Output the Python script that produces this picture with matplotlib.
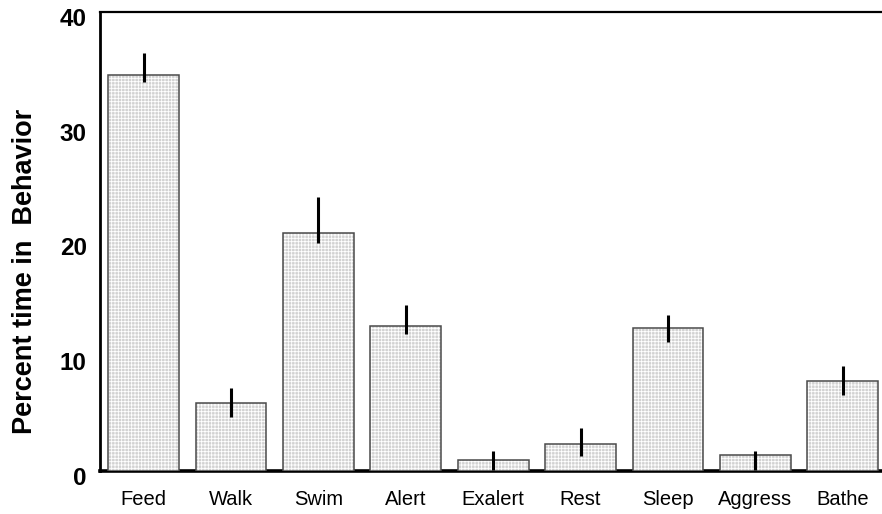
import matplotlib
matplotlib.use('Agg')
import matplotlib.pyplot as plt
import matplotlib.transforms as mtransforms


plt.rcParams['font.family']     = ['Liberation Sans', 'DejaVu Sans']
plt.rcParams['hatch.linewidth'] = 0.6
plt.rcParams['hatch.color']     = 'white'

behaviors   = ['Feed', 'Walk', 'Swim', 'Alert', 'Exalert', 'Rest', 'Sleep', 'Aggress', 'Bathe']
percent     = [34.5, 5.95, 20.7, 12.6, 0.93, 2.38, 12.5, 1.37, 7.84]
err_low     = [33.9, 4.73, 19.9, 11.9, 0.06, 1.28, 11.2, 0.06, 6.6]
err_high    = [36.4, 7.2, 23.9, 14.5, 1.74, 3.77, 13.6, 1.74, 9.15]
yticks      = [0, 10, 20, 30, 40]


def main():
    fig = plt.figure(figsize=(8.82, 5.14), dpi=100)
    ax = fig.add_axes([100/882, 1 - 471/514, 782/882, 459/514])

    X = range(len(behaviors))
    # texture first, then the outline on top
    ax.bar(X, percent, width=0.81, color='#d2d2d2', hatch='+++++',
           linewidth=0, zorder=3)
    ax.bar(X, percent, width=0.81, facecolor='none', edgecolor='#4a4a4a',
           linewidth=1.1, zorder=3.5)

    lower = [p - lo for p, lo in zip(percent, err_low)]
    upper = [hi - p for p, hi in zip(percent, err_high)]
    ax.errorbar(X, percent, yerr=[lower, upper], fmt='none', ecolor='black',
                elinewidth=2.2, capsize=0, zorder=4)

    ax.set_xlim(-0.5, 8.45)
    ax.set_ylim(0, 40)
    ax.set_xticks(list(X))
    ax.set_xticklabels(behaviors, fontsize=14.5)
    ax.set_yticks(yticks)
    ax.set_yticklabels([str(t) for t in yticks], fontsize=17.5, fontweight='bold')
    ax.tick_params(axis='x', length=0, pad=13.5)
    ax.tick_params(axis='y', length=0, pad=9.5)

    offset = mtransforms.ScaledTranslation(0, -5/100, fig.dpi_scale_trans)
    for label in ax.get_yticklabels():
        label.set_transform(label.get_transform() + offset)

    ax.set_ylabel('Percent time in  Behavior', fontsize=19.5, fontweight='bold')
    ax.yaxis.label.set(va='center', ha='center')
    ax.yaxis.set_label_coords(-0.096, 0.435)

    ax.spines['right'].set_visible(False)
    ax.spines['top'].set_linewidth(1.6)
    ax.spines['left'].set_linewidth(2.0)
    ax.spines['bottom'].set_linewidth(2.6)
    for s in ax.spines.values():
        s.set_color('black')
    ax.spines['bottom'].set_zorder(2)

    fig.savefig('out.png', dpi=100)
    plt.close()


main()
